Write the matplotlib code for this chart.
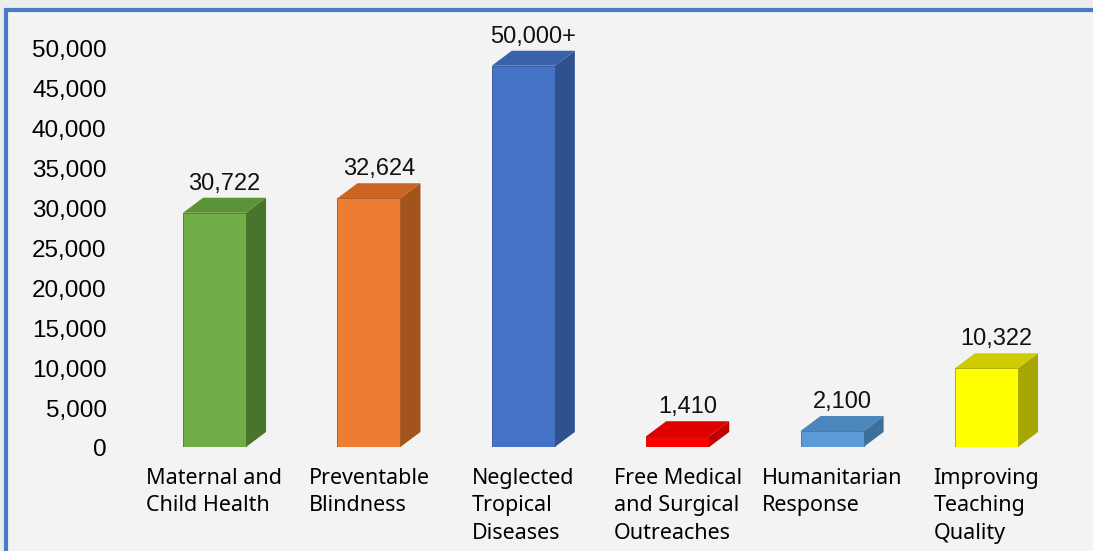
"""Programme reach by area - 3D style bar chart"""
import matplotlib
matplotlib.use('Agg')
import matplotlib.pyplot as plt
from matplotlib.patches import Rectangle, Polygon

# data
categories = ['Maternal and\nChild Health', 'Preventable\nBlindness',
              'Neglected\nTropical\nDiseases', 'Free Medical\nand Surgical\nOutreaches',
              'Humanitarian\nResponse', 'Improving\nTeaching\nQuality']
values = [30722, 32624, 50000, 1410, 2100, 10322]
value_labels = ['30,722', '32,624', '50,000+', '1,410', '2,100', '10,322']
y_ticks = list(range(0, 50001, 5000))

# front / side / top colours
front_cols = ['#70ad47', '#ed7d31', '#4472c4', '#ff0000', '#5b9bd5', '#ffff00']
side_cols = ['#48752b', '#a3541c', '#2f528f', '#c00000', '#3d6e9c', '#a6a600']
top_cols = ['#5c9238', '#cc6524', '#3a62ab', '#e00000', '#4b86bd', '#cccc00']

W, H = 1093, 551
fig = plt.figure(figsize=(W / 100, H / 100), dpi=100)
fig.patch.set_facecolor('#ededed')

# blue frame (behind the axes)
fig.patches.append(Rectangle((6 / W, -0.1), 1.2, (H - 10) / H + 0.1,
                             transform=fig.transFigure, facecolor='#f3f3f3',
                             edgecolor='#4a7bc6', linewidth=3.0, zorder=-5))

# tick axis (back wall scale)
axt = fig.add_axes([108 / W, 103 / H, 900 / W, 400 / H])
axt.set_ylim(0, 50000)
axt.set_yticks(y_ticks)
axt.set_yticklabels([f'{t:,}' for t in y_ticks], fontsize=17.5, family='Liberation Sans')
axt.tick_params(axis='y', length=0, pad=1)
axt.set_xticks([])
axt.patch.set_alpha(0)
for s in axt.spines.values():
    s.set_visible(False)

# bar axis
ax = fig.add_axes([30 / W, 104 / H, 1050 / W, 427 / H])
ax.patch.set_alpha(0)
ax.set_xlim(-1.195, 5.606)
ax.set_ylim(0, 56000)
for s in ax.spines.values():
    s.set_visible(False)
ax.set_yticks([])

w = 0.408    # front face width
dx = 0.13    # depth offset (x units)
dy = 1970    # depth offset (y units)
for i, v in enumerate(values):
    x0, x1 = i - w / 2, i + w / 2
    ax.add_patch(Rectangle((x0, 0), w, v, facecolor=front_cols[i],
                           edgecolor=side_cols[i], linewidth=0.6, zorder=3))
    ax.add_patch(Polygon([(x1, 0), (x1 + dx, dy), (x1 + dx, v + dy), (x1, v)],
                         closed=True, facecolor=side_cols[i], edgecolor='none', zorder=2))
    ax.add_patch(Polygon([(x0, v), (x0 + dx, v + dy), (x1 + dx, v + dy), (x1, v)],
                         closed=True, facecolor=top_cols[i], edgecolor='none', zorder=2))
    ax.annotate(value_labels[i], (i + dx / 2, v + dy), xytext=(0, 2),
                textcoords='offset points', ha='center', va='bottom',
                fontsize=17, family='Liberation Sans', color='#111111')

ax.set_xticks(range(len(categories)))
ax.set_xticklabels(categories, fontsize=15.5, family='Noto Sans', linespacing=1.4)
for lab in ax.get_xticklabels():
    lab.set_multialignment('left')
ax.tick_params(axis='x', length=0, pad=15)

plt.savefig('out.png', dpi=100, facecolor=fig.get_facecolor())
